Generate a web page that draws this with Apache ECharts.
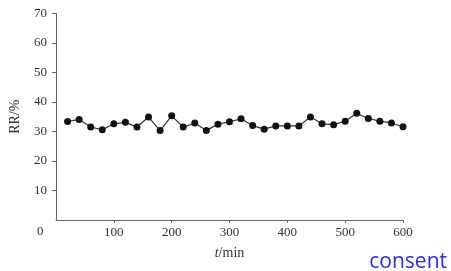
<!DOCTYPE html>
<html>
<head>
<meta charset="utf-8">
<script src="https://cdn.jsdelivr.net/npm/echarts@6/dist/echarts.min.js"></script>
<style>html,body{margin:0;padding:0;background:#fff;}#c{width:451px;height:271px;}</style>
</head>
<body>
<div id="c"></div>
<script>
const times = [20,40,60,80,100,120,140,160,180,200,220,240,260,280,300,320,340,360,380,400,420,440,460,480,500,520,540,560,580,600];
const rrValues = [33.4,34.1,31.5,30.6,32.6,33.1,31.5,34.9,30.3,35.3,31.5,32.9,30.3,32.5,33.3,34.3,32.0,30.8,31.9,31.9,31.9,34.9,32.6,32.3,33.5,36.2,34.4,33.5,32.9,31.6];
const xTicks = [0,100,200,300,400,500,600];
const yTicks = [0,10,20,30,40,50,60,70];

const serif = '"Liberation Serif","DejaVu Serif",serif';
const chart = echarts.init(document.getElementById('c'), null, {renderer:'canvas'});
chart.setOption({
  animation:false,
  backgroundColor:'#fff',
  grid:{left:54,right:48,top:13.5,bottom:51,containLabel:false},
  xAxis:{
    type:'value', min:xTicks[0], max:xTicks[xTicks.length-1], interval:100,
    name:'{i|t}/min', nameLocation:'middle', nameGap:26,
    nameTextStyle:{fontFamily:serif,fontSize:14,color:'#333',rich:{i:{fontFamily:serif,fontSize:14,fontStyle:'italic',color:'#333'}}},
    axisLine:{show:true,lineStyle:{color:'#666',width:1}},
    axisTick:{show:true,inside:false,length:3,lineStyle:{color:'#666'}},
    axisLabel:{fontFamily:serif,fontSize:13,color:'#333',margin:6,showMinLabel:false},
    splitLine:{show:false}
  },
  yAxis:{
    type:'value', min:yTicks[0], max:yTicks[yTicks.length-1], interval:10,
    name:'RR/%', nameLocation:'middle', nameGap:34, nameRotate:90,
    nameTextStyle:{fontFamily:serif,fontSize:14,color:'#333'},
    axisLine:{show:true,lineStyle:{color:'#666',width:1}},
    axisTick:{show:true,inside:false,length:4,lineStyle:{color:'#666'}},
    axisLabel:{fontFamily:serif,fontSize:13,color:'#333',margin:9,showMinLabel:false},
    splitLine:{show:false}
  },
  graphic:[
    {type:'text',left:37,top:225,style:{text:'0',font:'13px "Liberation Serif"',fill:'#333'}},
    {type:'text',right:4,bottom:-2,style:{text:'consent',font:'21px "Open Sans"',fill:'#2a2af0'}}
  ],
  series:[{
    type:'line',
    data:times.map((t,i)=>[t,rrValues[i]]),
    symbol:'circle', symbolSize:7,
    itemStyle:{color:'#111'},
    lineStyle:{color:'#333',width:1.2}
  }]
});
</script>
</body>
</html>
